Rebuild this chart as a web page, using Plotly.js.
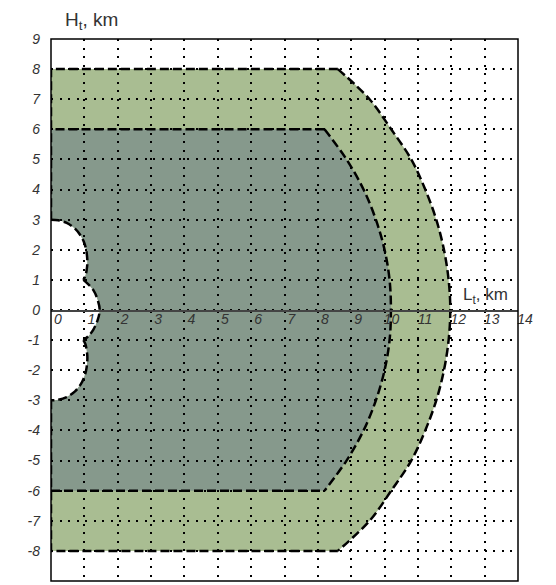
<!DOCTYPE html>
<html>
<head>
<meta charset="utf-8">
<script src="https://cdn.plot.ly/plotly-3.0.1.min.js"></script>
<style>
  html, body { margin: 0; padding: 0; background: #fff; }
  #chart { width: 556px; height: 585px; }
</style>
</head>
<body>
<div id="chart"></div>
<script>
// Outer zone boundary (right-hand arc), top to bottom, km
const outerArcX = [8.6, 9.55, 10.2, 10.8, 11.22, 11.55, 11.78, 11.92, 11.97, 11.92, 11.78, 11.55, 11.22, 10.8, 10.2, 9.55, 8.6];
const outerArcY = [8, 7, 6, 5, 4, 3, 2, 1, 0, -1, -2, -3, -4, -5, -6, -7, -8];

// Inner zone boundary (right-hand arc), top to bottom, km
const innerArcX = [8.2, 8.86, 9.37, 9.74, 10.0, 10.15, 10.19, 10.15, 10.0, 9.74, 9.37, 8.86, 8.2];
const innerArcY = [6, 5, 4, 3, 2, 1, 0, -1, -2, -3, -4, -5, -6];

// Blind area near the origin: three lobes, top to bottom
const upperLobeX = [0, 0.22, 0.47, 0.72, 0.89, 0.99, 1.05, 1.08, 1.09, 1.07, 1.03, 0.97];
const upperLobeY = [3.0, 2.98, 2.89, 2.7, 2.47, 2.25, 2.02, 1.79, 1.56, 1.34, 1.13, 1.0];
const middleLobeX = [0.97, 1.12, 1.27, 1.39, 1.46, 1.39, 1.27, 1.12, 0.97];
const middleLobeY = [1.0, 0.85, 0.66, 0.37, 0, -0.36, -0.65, -0.87, -1.0];
const lowerLobeX = [0.97, 1.03, 1.07, 1.09, 1.08, 1.05, 0.99, 0.89, 0.72, 0.47, 0.22, 0];
const lowerLobeY = [-1.0, -1.13, -1.34, -1.56, -1.79, -2.02, -2.25, -2.47, -2.7, -2.89, -2.98, -3.0];

// Axis ticks
const xTicks = [0, 1, 2, 3, 4, 5, 6, 7, 8, 9, 10, 11, 12, 13, 14];
const yTicks = [-9, -8, -7, -6, -5, -4, -3, -2, -1, 0, 1, 2, 3, 4, 5, 6, 7, 8, 9];

const W = 556, H = 585;
const M = { l: 51, r: 38, t: 39, b: 4 };
const xRange = [0, 14], yRange = [-9, 9];

const outerFill = '#a9bd92';
const innerFill = '#86998c';
const edge = { color: '#000', width: 2.5, dash: '9px,4px' };

// pixels per km on each axis, so the fill curves bend like the spline traces
const sx = (W - M.l - M.r) / (xRange[1] - xRange[0]);
const sy = (H - M.t - M.b) / (yRange[1] - yRange[0]);

function tangent(p0, p1, p2) {
  const d1x = p0[0] - p1[0], d1y = p0[1] - p1[1];
  const d2x = p2[0] - p1[0], d2y = p2[1] - p1[1];
  const d1a = Math.pow(d1x * d1x + d1y * d1y, 0.25);
  const d2a = Math.pow(d2x * d2x + d2y * d2y, 0.25);
  const nx = d2a * d2a * d1x - d1a * d1a * d2x;
  const ny = d2a * d2a * d1y - d1a * d1a * d2y;
  const den1 = 3 * d2a * (d1a + d2a), den2 = 3 * d1a * (d1a + d2a);
  return [[p1[0] + nx / den1, p1[1] + ny / den1], [p1[0] - nx / den2, p1[1] - ny / den2]];
}

// Smooth segment through the given points (current point = first point), in data units
function smoothSeg(xs, ys) {
  const pts = xs.map((x, i) => [x * sx, ys[i] * sy]);
  const d = p => (p[0] / sx) + ',' + (p[1] / sy);
  const t = [];
  for (let i = 1; i < pts.length - 1; i++) t.push(tangent(pts[i - 1], pts[i], pts[i + 1]));
  let s = ' Q' + d(t[0][0]) + ' ' + d(pts[1]);
  for (let i = 2; i < pts.length - 1; i++) s += ' C' + d(t[i - 2][1]) + ' ' + d(t[i - 1][0]) + ' ' + d(pts[i]);
  s += ' Q' + d(t[pts.length - 3][1]) + ' ' + d(pts[pts.length - 1]);
  return s;
}

const rev = a => a.slice().reverse();

// Zone outline: top edge, arc, bottom edge, then up along the blind area
function zonePath(arcX, arcY) {
  const top = arcY[0], bot = arcY[arcY.length - 1];
  let p = 'M0,' + top + ' L' + arcX[0] + ',' + top;
  p += smoothSeg(arcX, arcY);
  p += ' L0,' + bot + ' L' + lowerLobeX[lowerLobeX.length - 1] + ',' + lowerLobeY[lowerLobeY.length - 1];
  p += smoothSeg(rev(lowerLobeX), rev(lowerLobeY));
  p += smoothSeg(rev(middleLobeX), rev(middleLobeY));
  p += smoothSeg(rev(upperLobeX), rev(upperLobeY));
  return p + ' Z';
}

function edges(arcX, arcY) {
  const top = arcY[0], bot = arcY[arcY.length - 1];
  return {
    x: [arcX[0], 0, 0, null, 0, 0, arcX[arcX.length - 1]],
    y: [top, top, upperLobeY[0], null, lowerLobeY[lowerLobeY.length - 1], bot, bot]
  };
}

const oe = edges(outerArcX, outerArcY);
const ie = edges(innerArcX, innerArcY);
const spl = Object.assign({ shape: 'spline' }, edge);

const traces = [
  { x: outerArcX, y: outerArcY, mode: 'lines', line: spl, hoverinfo: 'skip' },
  { x: oe.x, y: oe.y, mode: 'lines', line: edge, hoverinfo: 'skip' },
  { x: innerArcX, y: innerArcY, mode: 'lines', line: spl, hoverinfo: 'skip' },
  { x: ie.x.slice(0, 2), y: ie.y.slice(0, 2), mode: 'lines', line: edge, hoverinfo: 'skip' },
  { x: ie.x.slice(5), y: ie.y.slice(5), mode: 'lines', line: edge, hoverinfo: 'skip' },
  { x: upperLobeX, y: upperLobeY, mode: 'lines', line: spl, hoverinfo: 'skip' },
  { x: middleLobeX, y: middleLobeY, mode: 'lines', line: spl, hoverinfo: 'skip' },
  { x: lowerLobeX, y: lowerLobeY, mode: 'lines', line: spl, hoverinfo: 'skip' }
];

const fontFam = 'Liberation Sans, Arial, sans-serif';
const tickFont = { family: fontFam, size: 14, color: '#333', style: 'italic' };
const grid = { showgrid: true, gridcolor: '#000', gridwidth: 2, griddash: '2px,6.5px' };

const layout = {
  width: W,
  height: H,
  margin: M,
  paper_bgcolor: '#fff',
  plot_bgcolor: '#fff',
  showlegend: false,
  xaxis: Object.assign({
    range: xRange,
    tickvals: xTicks,
    ticktext: xTicks.map(String),
    anchor: 'free',
    position: 0.5,
    showline: true,
    linecolor: '#444',
    linewidth: 1.5,
    zeroline: false,
    ticks: '',
    ticklabelshift: 7,
    ticklabelstandoff: -4,
    tickfont: tickFont,
    fixedrange: true
  }, grid),
  yaxis: Object.assign({
    range: yRange,
    tickvals: yTicks,
    ticktext: yTicks.map(String),
    zeroline: false,
    showline: false,
    ticks: '',
    ticklabelstandoff: 10,
    tickfont: tickFont,
    fixedrange: true
  }, grid),
  shapes: [
    { type: 'path', xref: 'x', yref: 'y', layer: 'below', path: zonePath(outerArcX, outerArcY), fillcolor: outerFill, line: { width: 0 } },
    { type: 'path', xref: 'x', yref: 'y', layer: 'below', path: zonePath(innerArcX, innerArcY), fillcolor: innerFill, line: { width: 0 } },
    { type: 'rect', xref: 'paper', yref: 'paper', x0: 0, x1: 1, y0: 0, y1: 1, layer: 'above', line: { color: '#000', width: 1.5 } }
  ],
  annotations: [
    { text: 'H<sub>t</sub>, km', xref: 'paper', yref: 'paper', x: 0.026, y: 1.033, xanchor: 'left', yanchor: 'middle', showarrow: false,
      font: { family: fontFam, size: 19, color: '#333' } },
    { text: 'L<sub>t</sub>, km', xref: 'x', yref: 'y', x: 12.3, y: 0.45, xanchor: 'left', yanchor: 'middle', showarrow: false,
      font: { family: fontFam, size: 17, color: '#333' } }
  ]
};

Plotly.newPlot('chart', traces, layout, { displayModeBar: false, staticPlot: true });
</script>
</body>
</html>
